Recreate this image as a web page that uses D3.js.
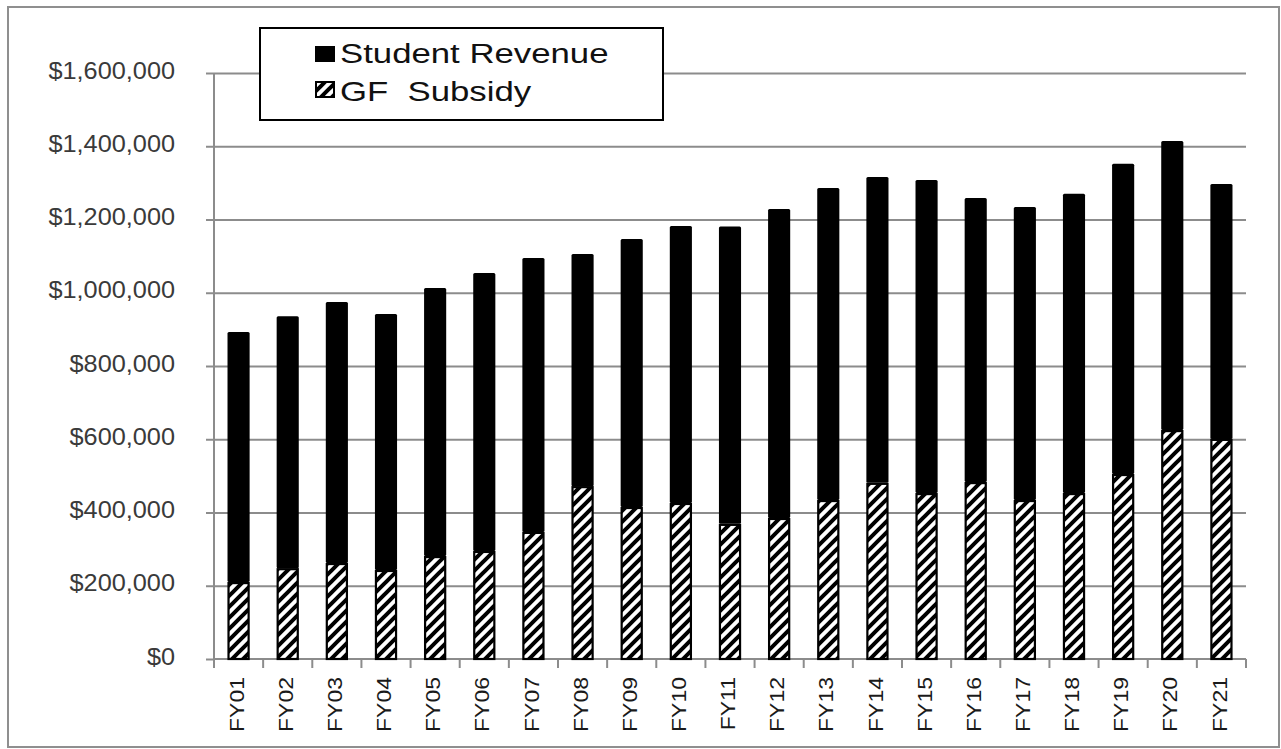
<!DOCTYPE html>
<html>
<head>
<meta charset="utf-8">
<script src="https://cdn.jsdelivr.net/npm/d3@7"></script>
<style>
  body { margin: 0; background: #fff; }
</style>
</head>
<body>
<svg id="chart" width="1281" height="749"></svg>
<script>
// Values (dollars)
const years = ["FY01","FY02","FY03","FY04","FY05","FY06","FY07","FY08","FY09","FY10","FY11",
               "FY12","FY13","FY14","FY15","FY16","FY17","FY18","FY19","FY20","FY21"];
const gfSubsidy = [210000, 248000, 262000, 243000, 281000, 295000, 347000, 472000, 415000, 426000, 369000,
                   385000, 434000, 481000, 453000, 483000, 434000, 453000, 505000, 625000, 601000];
const studentRevenue = [683000, 688000, 713000, 699000, 732000, 759000, 748000, 634000, 732000, 756000, 812000,
                        844000, 852000, 835000, 855000, 776000, 800000, 817000, 847000, 789000, 696000];
const yTicks = [0, 200000, 400000, 600000, 800000, 1000000, 1200000, 1400000, 1600000];
const legendLabels = ["Student Revenue", "GF  Subsidy"];

const W = 1281, H = 749;
const PLOT = { left: 214, right: 1246, top: 73, bottom: 659 };
const GRID = "#8c8c8c";
const FONT = "'Liberation Sans', Arial, sans-serif";

const svg = d3.select("#chart");

// hatch pattern "/" stripes
const defs = svg.append("defs");
const pat = defs.append("pattern").attr("id", "hatch")
  .attr("patternUnits", "userSpaceOnUse").attr("width", 11).attr("height", 11);
pat.append("rect").attr("width", 11).attr("height", 11).attr("fill", "#fff");
pat.append("path")
  .attr("d", "M-1,12 L12,-1 M-6.5,6.5 L6.5,-6.5 M4.5,17.5 L17.5,4.5")
  .attr("stroke", "#000").attr("stroke-width", 4);

svg.append("rect").attr("width", W).attr("height", H).attr("fill", "#fff");
// outer chart frame
svg.append("rect").attr("x", 8).attr("y", 7).attr("width", 1271).attr("height", 740)
  .attr("fill", "none").attr("stroke", "#8f8f8f").attr("stroke-width", 2);

const x = d3.scaleBand().domain(years).range([PLOT.left, PLOT.right])
  .paddingInner(0.55).paddingOuter(0.275);
const y = d3.scaleLinear().domain([0, 1600000]).range([PLOT.bottom, PLOT.top]);

// gridlines + y axis
const yAxis = svg.append("g").attr("transform", `translate(${PLOT.left},0)`)
  .call(d3.axisLeft(y).tickValues(yTicks).tickSize(8).tickFormat(d => "$" + d3.format(",")(d)));
yAxis.select(".domain").attr("stroke", GRID).attr("stroke-width", 2)
  .attr("d", `M0,${PLOT.top}V${PLOT.bottom}`);
yAxis.selectAll(".tick line").attr("stroke", GRID).attr("stroke-width", 2);
yAxis.selectAll(".tick text")
  .attr("x", 0).attr("dy", "0.22em")
  .attr("transform", "translate(-39,0) scale(1.1,1)")
  .attr("font-family", FONT).attr("font-size", 23)
  .attr("fill", "#3a3a3a");
yAxis.selectAll(".tick").filter(d => d > 0).append("line")
  .attr("x1", 0).attr("x2", PLOT.right - PLOT.left)
  .attr("stroke", GRID).attr("stroke-width", 2);

// x axis with ticks at category boundaries
const xg = svg.append("g");
xg.append("line").attr("x1", PLOT.left).attr("x2", PLOT.right)
  .attr("y1", PLOT.bottom).attr("y2", PLOT.bottom)
  .attr("stroke", GRID).attr("stroke-width", 2);
const boundaryX = years.map((d, i) => PLOT.left + i * x.step()).concat([PLOT.right]);
xg.selectAll(".xtick").data(boundaryX).join("line")
  .attr("x1", d => d).attr("x2", d => d)
  .attr("y1", PLOT.bottom).attr("y2", PLOT.bottom + 9)
  .attr("stroke", GRID).attr("stroke-width", 2);
xg.selectAll(".xlab").data(years).join("text")
  .attr("transform", d => `translate(${x(d) + x.bandwidth() / 2 - 2},677) rotate(-90) scale(1.15,1)`)
  .attr("text-anchor", "end").attr("dy", "0.36em")
  .attr("font-family", FONT).attr("font-size", 20)
  .attr("fill", "#1a1a1a")
  .text(d => d);

// stacked bars
const rows = years.map((d, i) => ({ year: d, gf: gfSubsidy[i], student: studentRevenue[i] }));
const series = d3.stack().keys(["gf", "student"])(rows);

svg.append("g").selectAll("rect").data(series[1]).join("rect")
  .attr("x", d => x(d.data.year)).attr("width", x.bandwidth())
  .attr("y", d => y(d[1])).attr("height", d => y(d[0]) - y(d[1]))
  .attr("rx", 1.5)
  .attr("fill", "#000");
svg.append("g").selectAll("rect").data(series[0]).join("rect")
  .attr("x", d => x(d.data.year) + 1).attr("width", x.bandwidth() - 2)
  .attr("y", d => y(d[1]) + 1).attr("height", d => y(d[0]) - y(d[1]) - 1)
  .attr("fill", "url(#hatch)").attr("stroke", "#000").attr("stroke-width", 2.2);

// legend
const leg = svg.append("g");
leg.append("rect").attr("x", 260).attr("y", 28).attr("width", 403).attr("height", 92)
  .attr("fill", "#fff").attr("stroke", "#000").attr("stroke-width", 2);
leg.append("rect").attr("x", 315).attr("y", 46).attr("width", 20).attr("height", 16).attr("fill", "#000");
leg.append("rect").attr("x", 316).attr("y", 82).attr("width", 18).attr("height", 15)
  .attr("fill", "url(#hatch)").attr("stroke", "#000").attr("stroke-width", 2);
legendLabels.forEach((t, i) => {
  leg.append("text")
    .attr("transform", `translate(340,${63 + i * 38}) scale(1.22,1)`)
    .attr("font-family", FONT).attr("font-size", 28.5)
    .attr("fill", "#111")
    .attr("xml:space", "preserve").style("white-space", "pre")
    .text(t);
});
</script>
</body>
</html>
